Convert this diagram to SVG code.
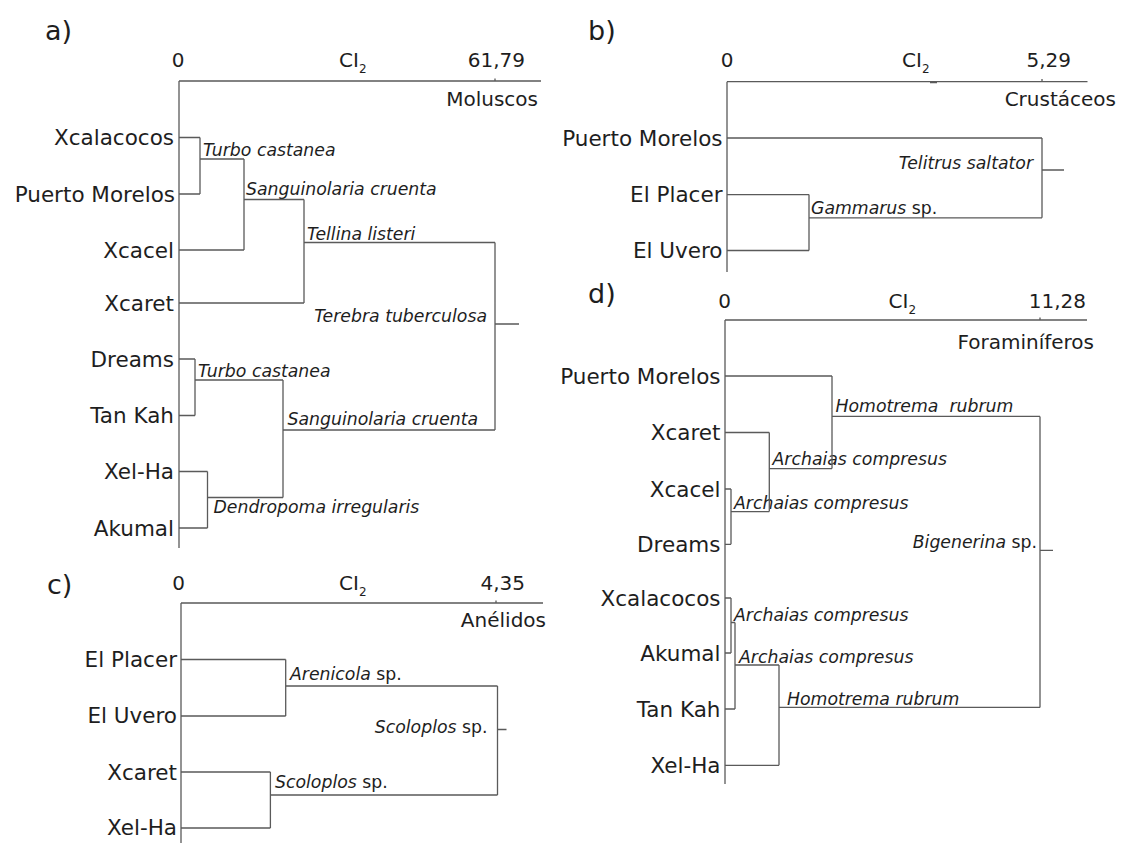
<svg xmlns="http://www.w3.org/2000/svg" width="1122" height="843" viewBox="0 0 1122 843">
<style>
text{font-family:"DejaVu Sans","Liberation Sans",sans-serif;fill:#1e1e1e}
.pl{font-size:27px}
.ax{font-size:20px}
.sub{font-size:12px}
.site{font-size:21.5px;text-anchor:end}
.sp{font-size:17.3px;font-style:italic}
.n{font-style:normal}
.ln{fill:none;stroke:#5a5a5a;stroke-width:1.3}
.end{text-anchor:end}
.mid{text-anchor:middle}
</style>
<rect width="1122" height="843" fill="#fff"/>

<!-- Panel a -->
<g id="panel-a">
  <text class="pl" x="45" y="40">a)</text>
  <g id="a-axis">
    <text class="ax mid" x="178" y="67">0</text>
    <text class="ax" x="339" y="67">CI<tspan class="sub" dy="6">2</tspan></text>
    <text class="ax end" x="525" y="67">61,79</text>
    <text class="ax end" x="538" y="106">Moluscos</text>
  </g>
  <g id="a-xcalacocos"><text class="site" x="174" y="145">Xcalacocos</text></g>
  <g id="a-puerto-morelos"><text class="site" x="175" y="201.5">Puerto Morelos</text></g>
  <g id="a-xcacel"><text class="site" x="174" y="257.5">Xcacel</text></g>
  <g id="a-xcaret"><text class="site" x="174" y="310.5">Xcaret</text></g>
  <g id="a-dreams"><text class="site" x="174" y="366.5">Dreams</text></g>
  <g id="a-tan-kah"><text class="site" x="174" y="423">Tan Kah</text></g>
  <g id="a-xel-ha"><text class="site" x="174" y="479">Xel-Ha</text></g>
  <g id="a-akumal"><text class="site" x="174" y="535.5">Akumal</text></g>
  <g id="a-labels">
    <text class="sp" x="203" y="155.5">Turbo castanea</text>
    <text class="sp" x="246" y="195">Sanguinolaria cruenta</text>
    <text class="sp" x="307" y="239.5">Tellina listeri</text>
    <text class="sp end" x="487" y="322">Terebra tuberculosa</text>
    <text class="sp" x="198" y="377">Turbo castanea</text>
    <text class="sp" x="287.5" y="425">Sanguinolaria cruenta</text>
    <text class="sp" x="213.5" y="513">Dendropoma irregularis</text>
  </g>
</g>

<!-- Panel b -->
<g id="panel-b">
  <text class="pl" x="588" y="40">b)</text>
  <g id="b-axis">
    <text class="ax mid" x="727" y="67">0</text>
    <text class="ax" x="902" y="67">CI<tspan class="sub" dy="6">2</tspan></text>
    <text class="ax end" x="1071" y="67">5,29</text>
    <text class="ax end" x="1116" y="106">Crustáceos</text>
  </g>
  <g id="b-puerto-morelos"><text class="site" x="722.5" y="145.5">Puerto Morelos</text></g>
  <g id="b-el-placer"><text class="site" x="722.5" y="202">El Placer</text></g>
  <g id="b-el-uvero"><text class="site" x="722.5" y="258">El Uvero</text></g>
  <g id="b-labels">
    <text class="sp end" x="1033" y="168.5">Telitrus saltator</text>
    <text class="sp" x="811" y="214"><tspan>Gammarus</tspan><tspan class="n"> sp.</tspan></text>
  </g>
</g>

<!-- Panel c -->
<g id="panel-c">
  <text class="pl" x="47" y="594">c)</text>
  <g id="c-axis">
    <text class="ax mid" x="178.5" y="590">0</text>
    <text class="ax" x="339" y="590">CI<tspan class="sub" dy="6">2</tspan></text>
    <text class="ax end" x="525" y="590">4,35</text>
    <text class="ax end" x="546" y="627">Anélidos</text>
  </g>
  <g id="c-el-placer"><text class="site" x="177" y="667">El Placer</text></g>
  <g id="c-el-uvero"><text class="site" x="177" y="723">El Uvero</text></g>
  <g id="c-xcaret"><text class="site" x="177" y="779.5">Xcaret</text></g>
  <g id="c-xel-ha"><text class="site" x="177" y="835">Xel-Ha</text></g>
  <g id="c-labels">
    <text class="sp" x="290" y="680"><tspan>Arenicola</tspan><tspan class="n"> sp.</tspan></text>
    <text class="sp end" x="487.5" y="733"><tspan>Scoloplos</tspan><tspan class="n"> sp.</tspan></text>
    <text class="sp" x="275" y="787.5"><tspan>Scoloplos</tspan><tspan class="n"> sp.</tspan></text>
  </g>
</g>

<!-- Panel d -->
<g id="panel-d">
  <text class="pl" x="588" y="303">d)</text>
  <g id="d-axis">
    <text class="ax mid" x="724.5" y="308">0</text>
    <text class="ax" x="888.5" y="308">CI<tspan class="sub" dy="6">2</tspan></text>
    <text class="ax end" x="1086" y="308">11,28</text>
    <text class="ax end" x="1094" y="349">Foraminíferos</text>
  </g>
  <g id="d-puerto-morelos"><text class="site" x="720.5" y="383.5">Puerto Morelos</text></g>
  <g id="d-xcaret"><text class="site" x="720.5" y="440">Xcaret</text></g>
  <g id="d-xcacel"><text class="site" x="720.5" y="496.5">Xcacel</text></g>
  <g id="d-dreams"><text class="site" x="720.5" y="552">Dreams</text></g>
  <g id="d-xcalacocos"><text class="site" x="720.5" y="606">Xcalacocos</text></g>
  <g id="d-akumal"><text class="site" x="720.5" y="661">Akumal</text></g>
  <g id="d-tan-kah"><text class="site" x="720.5" y="716.5">Tan Kah</text></g>
  <g id="d-xel-ha"><text class="site" x="720.5" y="772.5">Xel-Ha</text></g>
  <g id="d-labels">
    <text class="sp" x="835.5" y="412" xml:space="preserve">Homotrema  rubrum</text>
    <text class="sp" x="772.5" y="464.5">Archaias compresus</text>
    <text class="sp" x="734" y="509">Archaias compresus</text>
    <text class="sp end" x="1037" y="548"><tspan>Bigenerina</tspan><tspan class="n"> sp.</tspan></text>
    <text class="sp" x="734" y="621">Archaias compresus</text>
    <text class="sp" x="739" y="662.5">Archaias compresus</text>
    <text class="sp" x="787" y="704.5">Homotrema rubrum</text>
  </g>
</g>

<!-- Connectors -->
<g id="connectors" class="ln">
  <!-- a -->
  <path d="M179 81 H541 M179 81 V548 M495 78.5 V81"/>
  <path d="M179 137.5 H200 M179 194 H200 M200 137.5 V194 M200 159 H244 M179 250 H244 M244 159 V250 M244 199.5 H304 M179 303 H304 M304 199.5 V303 M304 242.5 H495 M495 242.5 V430 M495 324 H519 M283 430 H495"/>
  <path d="M179 359 H195 M179 415.5 H195 M195 359 V415.5 M195 380 H283 M283 380 V497.5 M207.5 497.5 H283 M179 471.5 H207.5 M179 528 H207.5 M207.5 471.5 V528"/>
  <!-- b -->
  <path d="M727 81.7 H1087.5 M727 81.7 V272 M1042 79 V81.7 M930 82.5 H937"/>
  <path d="M727 138 H1042 M727 194.6 H809 M727 250.5 H809 M809 194.6 V250.5 M809 217.8 H1042 M1042 138 V217.8 M1042 170 H1064"/>
  <!-- c -->
  <path d="M181 603 H543 M181 603 V843 M496 600.5 V603"/>
  <path d="M181 659.5 H285.7 M181 716 H285.7 M285.7 659.5 V716 M285.7 686 H497.5 M181 772 H270.4 M181 828 H270.4 M270.4 772 V828 M270.4 795 H497.5 M497.5 686 V795 M497.5 729.5 H506.5"/>
  <!-- d -->
  <path d="M725 320 H1087 M725 320 V784 M1040 317.5 V320"/>
  <path d="M725 376 H832 M725 432.5 H769.3 M725 489 H731 M725 544.3 H731 M731 489 V544.3 M731 511.6 H769.3 M769.3 432.5 V511.6 M769.3 468.6 H832 M832 376 V468.6 M832 416.4 H1040 M1040 416.4 V707.4 M1040 550.4 H1053"/>
  <path d="M725 598 H731 M725 653 H731 M731 598 V653 M731 622.5 H735 M725 709 H735 M735 622.5 V709 M735 665 H779 M725 765.3 H779 M779 665 V765.3 M779 707.4 H1040"/>
</g>
</svg>
